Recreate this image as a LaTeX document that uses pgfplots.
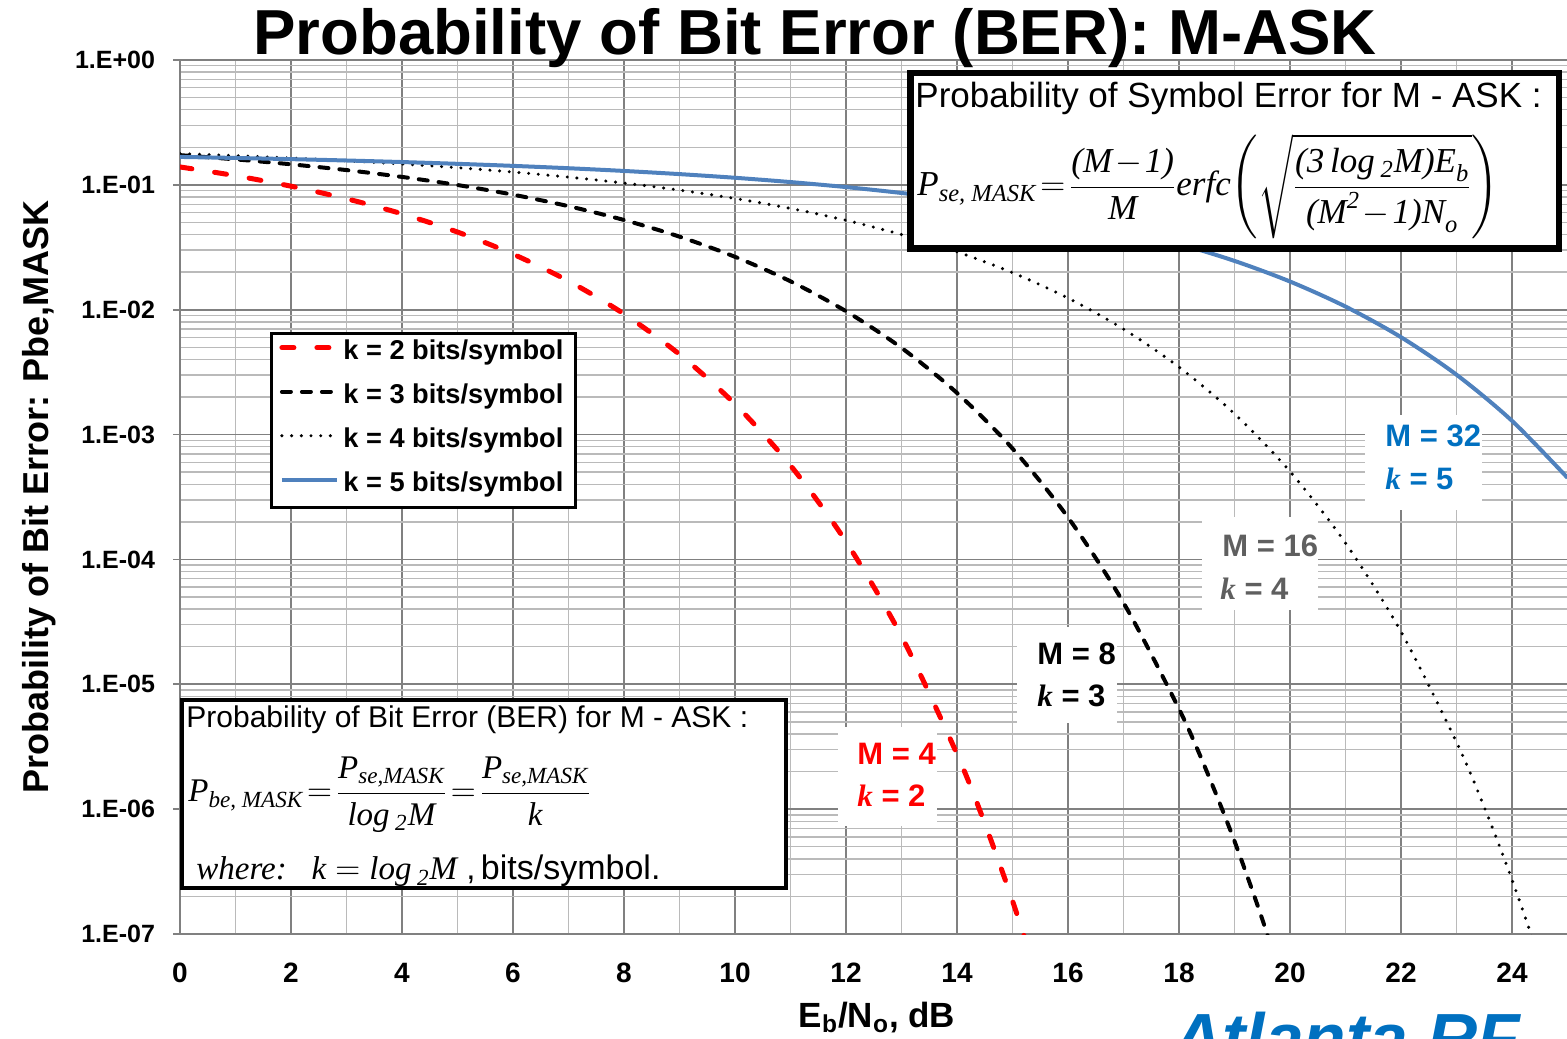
\documentclass[border=0pt]{standalone}
\usepackage{fontspec}
\usepackage{amsmath}
\usepackage{pgfplots}
\pgfplotsset{compat=1.18}
\setmainfont{Liberation Sans}
\newfontfamily\tnr{Liberation Serif}
\definecolor{serred}{RGB}{255,0,0}
\definecolor{serblue}{RGB}{79,129,189}
\definecolor{lblblue}{RGB}{0,112,192}
\definecolor{lblgray}{RGB}{95,95,95}
% italic serif pieces for the formulas
\newcommand\tv[1]{\text{\tnr\mdseries\itshape #1}}
% tighter spacing around = and - in the formulas
\newcommand\tight{\thickmuskip=2mu plus 1mu\medmuskip=1.5mu plus 1mu}

\begin{document}
\begin{tikzpicture}[x=1pt,y=1pt]
\useasboundingbox (0,0) rectangle (783.5,519);
\clip (0,0) rectangle (783.5,519);
\begin{axis}[
  at={(90pt,52pt)}, anchor=south west, scale only axis,
  width=693.75pt, height=437pt,
  xmin=0, xmax=25, ymode=log, ymin=1e-7, ymax=1,
  xtick={0,2,...,24}, minor xtick={1,3,...,25},
  ytick={1e-7,1e-6,1e-5,1e-4,1e-3,1e-2,1e-1,1},
  yticklabels={1.E-07,1.E-06,1.E-05,1.E-04,1.E-03,1.E-02,1.E-01,1.E+00},
  grid=both,
  major grid style={draw=black!50, line width=0.8pt},
  minor grid style={draw=black!27, line width=0.7pt},
  axis line style={draw=black!50, line width=0.8pt},
  tick align=outside,
  xtick style={/pgfplots/major tick length=0pt, /pgfplots/minor tick length=0pt},
  ytick style={draw=black!50, line width=0.8pt},
  major tick length=3.5pt, minor tick length=0pt,
  /pgf/number format/assume math mode=true,
  xticklabel style={font=\fontsize{14}{16}\selectfont\bfseries, anchor=base, yshift=-20.5pt},
  yticklabel style={font=\fontsize{12.5}{14}\selectfont\bfseries, anchor=east, xshift=-5.5pt},
  legend style={at={(0.0648,0.6885)}, anchor=north west,
    draw=black, line width=1.5pt, fill=white,
    inner xsep=4pt, inner ysep=3.5pt, row sep=8pt,
    font=\fontsize{13.6}{15}\selectfont\bfseries,
    nodes={inner sep=2pt, text height=0.75em, text depth=0.25em}},
  legend image code/.code={\draw[#1] (0pt,0.35em) -- (27.5pt,0.35em);},
  legend cell align=left,
]
% k = 2 (M = 4)
\addplot[serred, line width=2.5pt, line cap=round, dash pattern=on 6pt off 11.5pt, smooth] table {
x y
0 0.1391
1 0.11835
2 0.09756
3 0.07741
4 0.05862
5 0.04189
6 0.02787
7 0.016966
8 0.009246
9 0.00439
10 0.0017543
11 0.0005658
12 0.00013873
13 2.4237e-5
14 2.762e-6
14.5 7.689e-7
15 1.842e-7
15.5 3.728e-8
16 6.25e-9
};
% k = 3 (M = 8)
\addplot[black, line width=2pt, line cap=round, dash pattern=on 4.5pt off 5.5pt, smooth] table {
x y
0 0.17295
1 0.16003
2 0.14612
3 0.13131
4 0.11577
5 0.099703
6 0.083472
7 0.067503
8 0.052315
9 0.038482
10 0.026533
11 0.016885
12 0.0097243
13 0.0049461
14 0.0021543
15 0.00077327
16 0.00021708
17 4.4972e-5
18 6.3505e-6
18.5 2.0054e-6
19 5.536e-7
19.5 1.3143e-7
20 2.634e-8
};
% k = 4 (M = 16)
\addplot[black, line width=1.7pt, line cap=round, dash pattern=on 0pt off 4.85pt, smooth] table {
x y
0 0.17789
1 0.17125
2 0.16391
3 0.15580
4 0.14691
5 0.13720
6 0.12667
7 0.11536
8 0.10334
9 0.090759
10 0.077806
11 0.064774
12 0.052020
13 0.039977
14 0.029097
15 0.019804
16 0.012400
17 0.0069984
18 0.0034722
19 0.001467
20 0.0005058
21 0.00013537
22 2.6346e-5
23 3.4378e-6
23.5 1.0381e-6
24 2.721e-7
24.5 6.095e-8
25 1.1443e-8
};
% k = 5 (M = 32)
\addplot[serblue, line width=2pt, smooth] table {
x y
0 0.16741
1 0.16423
2 0.16068
3 0.15672
4 0.15230
5 0.14739
6 0.14194
7 0.13590
8 0.12925
9 0.12193
10 0.11395
11 0.10529
12 0.095984
13 0.086083
14 0.075706
15 0.065013
16 0.054234
17 0.043666
18 0.033662
19 0.024597
20 0.016820
21 0.010596
22 0.0060247
23 0.0030159
24 0.0012879
25 0.00045047
};
\legend{k = 2 bits/symbol, k = 3 bits/symbol, k = 4 bits/symbol, k = 5 bits/symbol}
\end{axis}

% curve labels on white patches
\fill[white] (419,106) rectangle (468.5,155.5);
\fill[white] (508.5,157.5) rectangle (558.5,205.5);
\fill[white] (601,214) rectangle (659,260.5);
\fill[white] (682.5,264) rectangle (741,311.5);
\begin{scope}[every node/.style={anchor=base west, inner sep=0pt, font=\fontsize{15.5}{18}\selectfont\bfseries}]
\node[text=serred] at (428.5,136.5) {M = 4};
\node[text=serred] at (428.5,115.5) {{\tnr\itshape k} = 2};
\node at (518.5,186.5) {M = 8};
\node at (518.5,165.5) {{\tnr\itshape k} = 3};
\node[text=lblgray] at (611,240.5) {M = 16};
\node[text=lblgray] at (610,219) {{\tnr\itshape k} = 4};
\node[text=lblblue] at (692.5,295.5) {M = 32};
\node[text=lblblue] at (692.5,274) {{\tnr\itshape k} = 5};
\end{scope}

% symbol error formula box
\draw[line width=3.3pt, fill=white] (455.2,394.7) rectangle (779.4,482.4);
\node[anchor=base west, inner sep=0pt, font=\fontsize{17.5}{20}\selectfont] at (457.5,465) {Probability of Symbol Error for M - ASK :};
\node[anchor=base west, inner sep=0pt, font=\fontsize{17.5}{21}\selectfont] at (458.5,421)
  {\tight$\displaystyle \tv{P}_{\tv{se, MASK}} = \frac{\tv{(M} - \tv{1)}}{\tv{M}}\tv{erfc}\!\left(\sqrt{\frac{\tv{(3\,log\,}{}_{\tv{2}}\tv{M)E}_{\tv{b}}}{\tv{(M}^{\tv{2}} - \tv{1)N}_{\tv{o}}}}\right)$};

% bit error formula box
\draw[line width=1.8pt, fill=white] (91,75) rectangle (393,169);
\node[anchor=base west, inner sep=0pt, font=\fontsize{15}{18}\selectfont] at (93,155) {Probability of Bit Error (BER) for M - ASK :};
\node[anchor=base west, inner sep=0pt, font=\fontsize{16.5}{20}\selectfont] at (94,118)
  {\tight$\displaystyle \tv{P}_{\tv{be, MASK}} = \frac{\tv{P}_{\tv{se,MASK}}}{\tv{log\,}{}_{\tv{2}}\tv{M}} = \frac{\tv{P}_{\tv{se,MASK}}}{\tv{k}}$};
\node[anchor=base west, inner sep=0pt, font=\fontsize{16.5}{18}\selectfont] at (98,79)
  {{\tnr\itshape where:\ \ \ k} $=$ {\tnr\itshape log\,\textsubscript{2}M} ,\,{\fontsize{17}{18}\selectfont bits/symbol.}};

% titles
\node[anchor=base, inner sep=0pt, font=\fontsize{31.8}{36}\selectfont\bfseries] at (407.5,491.5) {Probability of Bit Error (BER): M-ASK};
\node[rotate=90, anchor=base, inner sep=0pt, font=\fontsize{18}{22}\selectfont\bfseries] at (24,270.5) {Probability of Bit Error: Pbe,MASK};
\node[anchor=base, inner sep=0pt, font=\fontsize{17.5}{20}\selectfont\bfseries] at (438.5,5.5) {E\textsubscript{b}/N\textsubscript{o}, dB};
\node[anchor=base west, inner sep=0pt, text=lblblue, font=\fontsize{34.8}{40}\selectfont\bfseries\itshape] at (586,-12) {Atlanta RF};
\end{tikzpicture}
\end{document}
